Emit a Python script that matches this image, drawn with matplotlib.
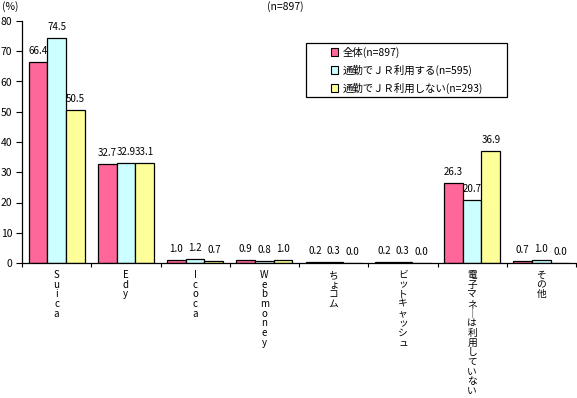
import matplotlib
matplotlib.use("Agg")
import matplotlib.pyplot as plt
import numpy as np
from matplotlib.patches import Rectangle

plt.rcParams['font.family'] = ['Noto Sans CJK JP', 'DejaVu Sans']

categories = ["Suica", "Edy", "Icoca", "Webmoney", "ちょコム", "ビットキャッシュ", "電子マネ︱は利用していない", "その他"]
series_names = ["全体(n=897)", "通勤でＪＲ利用する(n=595)", "通勤でＪＲ利用しない(n=293)"]
total = [66.4, 32.7, 1.0, 0.9, 0.2, 0.2, 26.3, 0.7]
jr_yes = [74.5, 32.9, 1.2, 0.8, 0.3, 0.3, 20.7, 1.0]
jr_no = [50.5, 33.1, 0.7, 1.0, 0.0, 0.0, 36.9, 0.0]
colors = ["#FF6699", "#CCFFFF", "#FFFF99"]
yticks = [0, 10, 20, 30, 40, 50, 60, 70, 80]

W, H = 577, 398
fig = plt.figure(figsize=(W/100, H/100), dpi=100)
ax = fig.add_axes([22/W, 1 - 263/H, 554/W, 242/H])

x = np.arange(len(categories))
w = 0.27
for i, (vals, c) in enumerate(zip([total, jr_yes, jr_no], colors)):
    pos = x + (i - 1) * w
    ax.bar(pos, vals, width=w, color=c, edgecolor="black", linewidth=0.9)
    for p, v in zip(pos, vals):
        ax.text(p, v + 2.0, f"{v:.1f}", ha="center", va="bottom", fontsize=7)

ax.set_xlim(-0.5, len(categories) - 0.5)
ax.set_ylim(0, 80)
ax.set_yticks(yticks)
ax.set_yticklabels([str(t) for t in yticks], fontsize=7.5)
ax.tick_params(axis="y", length=4, width=0.8, pad=3)
ax.set_xticks(np.arange(len(categories) + 1) - 0.5)
ax.set_xticklabels([])
ax.tick_params(axis="x", length=3, width=0.8, direction="out")
for s in ["top", "right"]:
    ax.spines[s].set_visible(False)
for s in ["left", "bottom"]:
    ax.spines[s].set_linewidth(0.9)

for xi, cat in zip(x, categories):
    ax.text(xi, -2.3, "\n".join(cat), ha="center", va="top", fontsize=7, linespacing=0.96)

fig.text(2/W, 1 - 7/H, "(%)", ha="left", va="center", fontsize=7.5)
fig.text(285/W, 1 - 7/H, "(n=897)", ha="center", va="center", fontsize=7.5)

# legend box (manual, pixel layout)
fig.patches.append(Rectangle((306/W, 1 - 97/H), 201/W, 54/H, transform=fig.transFigure,
                             facecolor="white", edgecolor="black", linewidth=0.9, zorder=5))
rows = [52, 70, 88]
for yy, c, name in zip(rows, colors, series_names):
    fig.patches.append(Rectangle((331/W, 1 - (yy + 3.5)/H), 7/W, 7/H, transform=fig.transFigure,
                                 facecolor=c, edgecolor="black", linewidth=0.8, zorder=6))
    fig.text(343/W, 1 - yy/H, name, ha="left", va="center", fontsize=7.5, zorder=7)

fig.savefig("out.png", dpi=100)
